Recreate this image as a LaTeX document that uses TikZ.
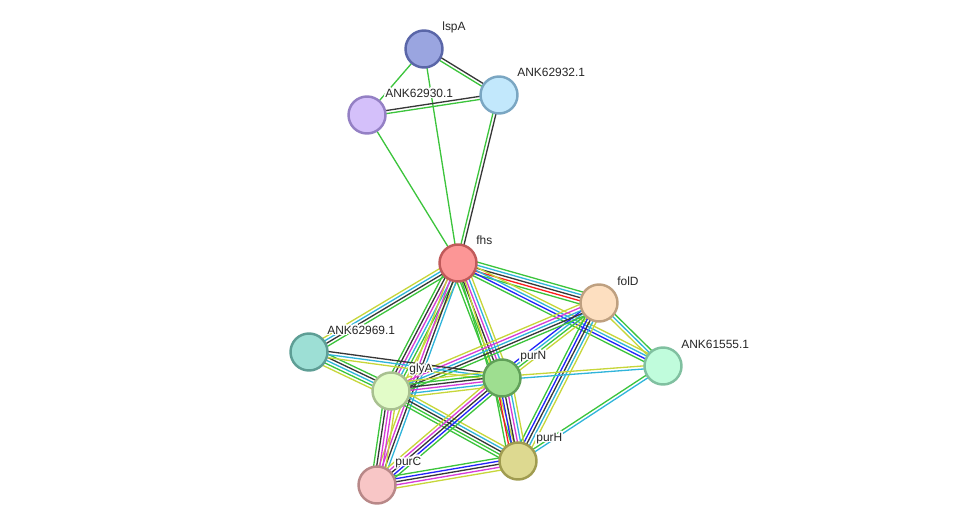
\documentclass[tikz,border=0pt]{standalone}
\usepackage{fontspec}
\usepackage{contour}
\contourlength{0.9pt}
\newfontfamily\arialfont{Liberation Sans}
\usetikzlibrary{calc,backgrounds}

\definecolor{tm}{RGB}{199,214,58}
\definecolor{co}{RGB}{55,55,55}
\definecolor{ex}{RGB}{214,60,214}
\definecolor{db}{RGB}{48,180,218}
\definecolor{nb}{RGB}{60,196,60}
\definecolor{fu}{RGB}{250,30,30}
\definecolor{oc}{RGB}{35,35,250}

% node fill / border
\definecolor{lspAf}{RGB}{154,165,224}\definecolor{lspAd}{RGB}{90,102,168}
\definecolor{a32f}{RGB}{194,232,252}\definecolor{a32d}{RGB}{122,166,194}
\definecolor{a30f}{RGB}{212,192,250}\definecolor{a30d}{RGB}{148,128,196}
\definecolor{fhsf}{RGB}{252,150,150}\definecolor{fhsd}{RGB}{192,90,90}
\definecolor{folDf}{RGB}{253,223,192}\definecolor{folDd}{RGB}{190,160,128}
\definecolor{a69f}{RGB}{157,223,213}\definecolor{a69d}{RGB}{94,158,149}
\definecolor{a55f}{RGB}{192,252,220}\definecolor{a55d}{RGB}{128,192,160}
\definecolor{purNf}{RGB}{158,222,144}\definecolor{purNd}{RGB}{96,160,88}
\definecolor{glyAf}{RGB}{226,252,200}\definecolor{glyAd}{RGB}{168,192,144}
\definecolor{purHf}{RGB}{221,217,144}\definecolor{purHd}{RGB}{160,156,80}
\definecolor{purCf}{RGB}{248,198,198}\definecolor{purCd}{RGB}{184,136,136}

% #1 from, #2 to, #3 number of lines, #4 colours
\newcommand{\bundle}[4]{%
  \foreach \col [count=\k] in {#4} {
    \pgfmathsetmacro{\off}{(\k-(#3+1)/2)*1.75}
    \draw[line width=0.75pt, \col] ($(#1)!\off pt!90:(#2)$) -- ($(#2)!\off pt!-90:(#1)$);
  }}

\tikzset{
  prot/.style={circle, minimum size=0.74cm, inner sep=0pt, line width=1.4pt, fill=#1f, draw=#1d},
  lbl/.style={anchor=west, inner sep=0pt, text=black!85, font=\arialfont\fontsize{6.8}{8}\selectfont}
}

\begin{document}
\begin{tikzpicture}[x=0.02cm, y=-0.02cm]
    \useasboundingbox (0,0) rectangle (976,530);

    % Proteins
    \node[prot=lspA] (lspA) at (424,49) {};
    \node[prot=a32] (a32) at (499,95) {};
    \node[prot=a30] (a30) at (367,115) {};
    \node[prot=fhs] (fhs) at (458,263) {};
    \node[prot=folD] (folD) at (599,303) {};
    \node[prot=a69] (a69) at (309,352) {};
    \node[prot=a55] (a55) at (663,366) {};
    \node[prot=purN] (purN) at (502,378) {};
    \node[prot=glyA] (glyA) at (391,391) {};
    \node[prot=purH] (purH) at (518,461) {};
    \node[prot=purC] (purC) at (377,485) {};

    % Labels
    \node[lbl] (lspA-l) at ([shift={(18,-21)}]lspA) {\contour{white}{lspA}};
    \node[lbl] (a32-l) at ([shift={(18,-22)}]a32) {\contour{white}{ANK62932.1}};
    \node[lbl] (a30-l) at ([shift={(18,-21)}]a30) {\contour{white}{ANK62930.1}};
    \node[lbl] (fhs-l) at ([shift={(18,-22)}]fhs) {\contour{white}{fhs}};
    \node[lbl] (folD-l) at ([shift={(18,-21)}]folD) {\contour{white}{folD}};
    \node[lbl] (a69-l) at ([shift={(18,-21)}]a69) {\contour{white}{ANK62969.1}};
    \node[lbl] (a55-l) at ([shift={(18,-21)}]a55) {\contour{white}{ANK61555.1}};
    \node[lbl] (purN-l) at ([shift={(18,-21)}]purN) {\contour{white}{purN}};
    \node[lbl] (glyA-l) at ([shift={(18,-21)}]glyA) {\contour{white}{glyA}};
    \node[lbl] (purH-l) at ([shift={(18,-22)}]purH) {\contour{white}{purH}};
    \node[lbl] (purC-l) at ([shift={(18,-22)}]purC) {\contour{white}{purC}};

    % Interactions
    \begin{pgfonlayer}{background}
        \bundle{lspA}{a30}{1}{nb}
        \bundle{lspA}{a32}{2}{nb,co}
        \bundle{lspA}{fhs}{1}{nb}
        \bundle{a30}{a32}{2}{nb,co}
        \bundle{a30}{fhs}{1}{nb}
        \bundle{a32}{fhs}{2}{nb,co}
        \bundle{fhs}{a69}{4}{tm,db,co,nb}
        \bundle{fhs}{glyA}{6}{nb,co,ex,db,nb,tm}
        \bundle{fhs}{purC}{4}{tm,ex,co,db}
        \bundle{fhs}{purN}{6}{nb,nb,co,ex,db,tm}
        \bundle{fhs}{purH}{2}{nb,tm}
        \bundle{fhs}{folD}{5}{nb,fu,co,db,nb}
        \bundle{fhs}{a55}{4}{nb,oc,db,tm}
        \bundle{folD}{a55}{3}{tm,db,nb}
        \bundle{folD}{purN}{4}{oc,db,nb,tm}
        \bundle{folD}{glyA}{5}{tm,ex,db,co,nb}
        \bundle{folD}{purH}{5}{nb,oc,co,db,tm}
        \bundle{a69}{glyA}{5}{tm,nb,db,co,nb}
        \bundle{a69}{purN}{3}{tm,db,co}
        \bundle{a55}{purN}{2}{tm,db}
        \bundle{a55}{purH}{2}{nb,db}
        \bundle{glyA}{purN}{6}{tm,db,ex,co,nb,tm}
        \bundle{glyA}{purH}{5}{nb,nb,co,db,tm}
        \bundle{glyA}{purC}{5}{nb,co,ex,ex,tm}
        \bundle{purN}{purH}{7}{nb,fu,oc,co,ex,db,tm}
        \bundle{purN}{purC}{5}{tm,ex,co,oc,nb}
        \bundle{purC}{purH}{5}{tm,ex,co,oc,nb}
    \end{pgfonlayer}
\end{tikzpicture}
\end{document}
